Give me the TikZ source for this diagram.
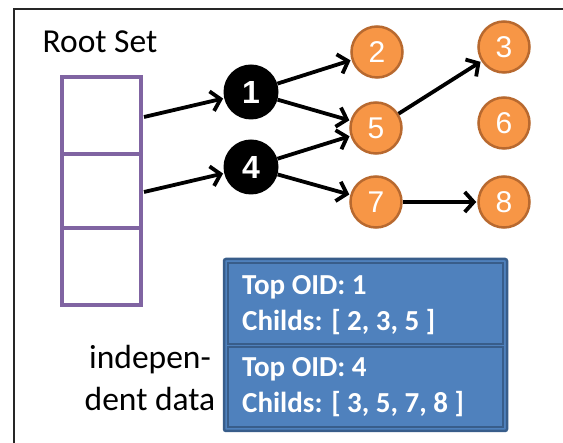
\documentclass[tikz,border=0pt]{standalone}
\usepackage{fontspec}
\newfontfamily\calibri{Carlito}
\newfontfamily\arial{Liberation Sans}
\usetikzlibrary{arrows.meta}
\definecolor{purp}{HTML}{8064A2}
\definecolor{orng}{HTML}{F79646}
\definecolor{orngd}{HTML}{B8692F}
\definecolor{blu}{HTML}{4F81BD}
\definecolor{blud}{HTML}{385D8A}
\tikzset{
  onode/.style={circle, fill=orng, draw=orngd, line width=2.5pt, minimum size=51pt, inner sep=0pt, text=white, font=\arial\fontsize{30}{30}\selectfont},
  bnode/.style={circle, fill=black, minimum size=55pt, inner sep=0pt, text=white, font=\arial\bfseries\fontsize{32}{32}\selectfont},
  cell/.style={draw=purp, line width=4pt, minimum width=79pt, inner sep=0pt},
  arr/.style={-{Straight Barb[length=9pt,width=20pt,line width=3.8pt]}, line width=3.8pt, shorten >=1pt},
  bbox/.style={fill=blu, draw=blud, line width=2.5pt},
  btext/.style={anchor=west, text=white, font=\calibri\bfseries\fontsize{29}{29}\selectfont, inner sep=0pt},
  plain/.style={font=\calibri\fontsize{33.5}{40}\selectfont, inner sep=0pt}
}
\begin{document}
\begin{tikzpicture}[x=1pt,y=-1pt]
\useasboundingbox (0,0) rectangle (563,443);
\fill[white] (0,0) rectangle (563,443);
\draw[line width=2pt, black!85] (14,600) -- (14,9) -- (700,9);
\node[plain] (rs) at (100,42) {Root Set};
\node[cell, minimum height=77pt] (c1) at (101,115.5) {};
\node[cell, minimum height=74pt] (c2) at (101,191) {};
\node[cell, minimum height=77pt] (c3) at (101,266.5) {};
\node[bnode] (n1) at (251,92) {1};
\node[bnode] (n4) at (251,167) {4};
\node[onode] (n2) at (377,52) {2};
\node[onode] (n5) at (376,128) {5};
\node[onode] (n7) at (376,202) {7};
\node[onode] (n3) at (504,47) {3};
\node[onode] (n6) at (504,123) {6};
\node[onode] (n8) at (504,202) {8};
\coordinate (s1) at (144,117);
\coordinate (s2) at (144,192);
\draw[arr] (s1) -- (n1);
\draw[arr] (s2) -- (n4);
\draw[arr] (n1) -- (n2);
\draw[arr] (n1) -- (n5);
\draw[arr] (n4) -- (n5);
\draw[arr] (n4) -- (n7);
\draw[arr] (n5) -- (n3);
\draw[arr] (n7) -- (n8);
\draw[bbox, rounded corners=2pt] (224,259) rectangle (507,431);
\draw[bbox] (228,263) rectangle (503,344);
\draw[bbox] (228,347) rectangle (503,427);
\node[btext] (t1) at (242,287) {Top OID: 1};
\node[btext] (t2) at (242,322) {Childs: [ 2, 3, 5 ]};
\node[btext] (t3) at (242,369) {Top OID: 4};
\node[btext] (t4) at (242,404) {Childs: [ 3, 5, 7, 8 ]};
\node[plain, align=center] (ind) at (150,378) {indepen-\\[2pt]dent data};
\end{tikzpicture}
\end{document}
